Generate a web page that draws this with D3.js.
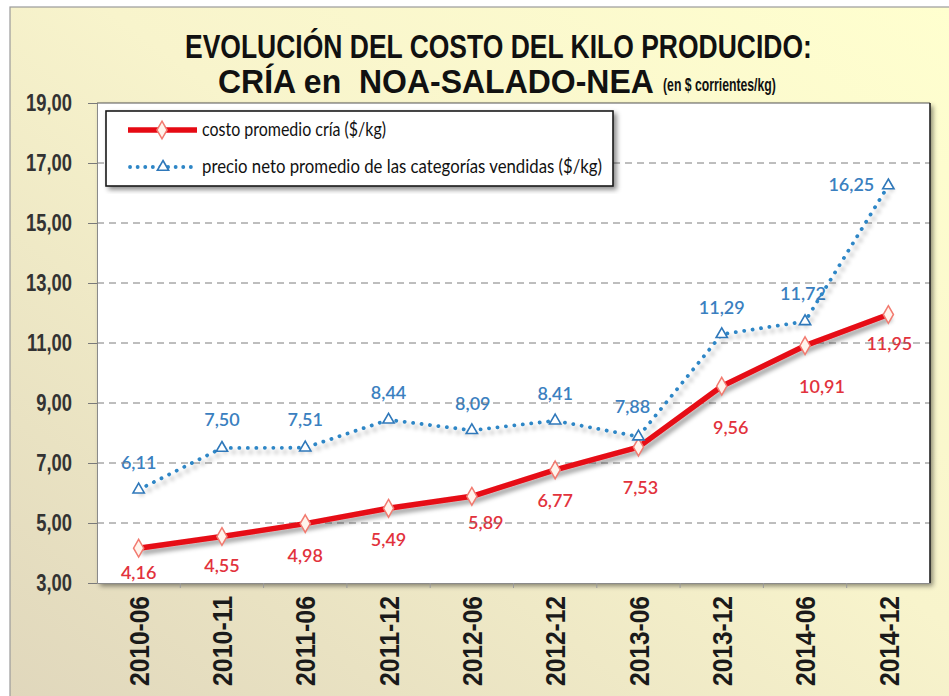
<!DOCTYPE html>
<html><head><meta charset="utf-8">
<script src="https://cdn.jsdelivr.net/npm/d3@7/dist/d3.min.js"></script>
<style>body{margin:0;background:#fff;overflow:hidden}</style>
</head><body><svg id="c" width="949" height="696"></svg>
<script>
const categories = ["2010-06","2010-11","2011-06","2011-12","2012-06","2012-12","2013-06","2013-12","2014-06","2014-12"];
const costo  = [4.16, 4.55, 4.98, 5.49, 5.89, 6.77, 7.53, 9.56, 10.91, 11.95];
const precio = [6.11, 7.50, 7.51, 8.44, 8.09, 8.41, 7.88, 11.29, 11.72, 16.25];
const yTicks = [3, 5, 7, 9, 11, 13, 15, 17, 19];
const seriesNames = ["costo promedio cría ($/kg)", "precio neto promedio de las categorías vendidas ($/kg)"];
const titleLine1 = "EVOLUCIÓN DEL COSTO DEL KILO PRODUCIDO:";
const titleLine2 = "CRÍA en  NOA-SALADO-NEA";
const titleSub = "(en $ corrientes/kg)";

// label nudges (layout only)
const costoLabelDx = [0,0,0,0,14,0,2,9,17,1];
const costoLabelDy = [24,28,31,31,26,30,40,41,40,28];
const precioLabelDx = [0,0,0,0,1,0,-6,0,-2,-37];
const precioLabelDy = [-28,-29,-29,-28,-27,-28,-31,-27,-28,-2];

const W = 949, H = 696;
const P = {left: 97, right: 930, top: 103, bottom: 583};
const svg = d3.select("#c");
const narrow = "'Liberation Sans','Arial',sans-serif";
const body = "Lato,'Open Sans','Noto Sans',sans-serif";

const defs = svg.append("defs");
const bg = defs.append("linearGradient").attr("id","bg").attr("x1","1").attr("y1","0").attr("x2","0").attr("y2","1");
bg.append("stop").attr("offset","0").attr("stop-color","#FFFFCF");
bg.append("stop").attr("offset","0.45").attr("stop-color","#F8F4CC");
bg.append("stop").attr("offset","1").attr("stop-color","#E0D7BC");
const sh = defs.append("filter").attr("id","sh").attr("x","-10%").attr("y","-10%").attr("width","130%").attr("height","140%");
sh.append("feDropShadow").attr("dx",3).attr("dy",4).attr("stdDeviation",2.2).attr("flood-color","#000").attr("flood-opacity",0.35);
const sh2 = defs.append("filter").attr("id","sh2").attr("x","-5%").attr("y","-5%").attr("width","110%").attr("height","115%");
sh2.append("feDropShadow").attr("dx",3).attr("dy",3).attr("stdDeviation",2.5).attr("flood-color","#000").attr("flood-opacity",0.45);

svg.append("rect").attr("x",10).attr("y",7).attr("width",W).attr("height",H)
  .attr("fill","url(#bg)").attr("stroke","#9a9a9a").attr("stroke-width",1.2);

function fit(sel, w){ const n=sel.node(); const l=n.getComputedTextLength(); if(Math.abs(l-w)>2) sel.attr("textLength",w).attr("lengthAdjust","spacingAndGlyphs"); return sel; }
function squeeze(sel, f){ sel.each(function(){ const l=this.getComputedTextLength(); d3.select(this).attr("textLength",l*f).attr("lengthAdjust","spacingAndGlyphs"); }); return sel; }
// horizontally scale a text (anchored at its start) so it spans width w
function scaleTo(tx, ty, w, size, str, extra){
  const t = svg.append("text").attr("x",0).attr("y",0).attr("font-family",narrow).attr("font-weight","bold")
    .attr("font-size",size).attr("fill","#111").style("white-space","pre").text(str);
  const l = t.node().getComputedTextLength();
  t.attr("transform",`translate(${tx},${ty}) scale(${w/l},1)`);
  return t;
}

// title
scaleTo(185, 58, 627, 34, titleLine1);
scaleTo(218, 93, 436, 34, titleLine2);
scaleTo(663, 91, 113, 18, titleSub);

const x = d3.scalePoint().domain(categories).range([P.left, P.right]).padding(0.5);
const y = d3.scaleLinear().domain([3, 19]).range([P.bottom, P.top]);

// plot area
svg.append("rect").attr("x",P.left).attr("y",P.top).attr("width",P.right-P.left).attr("height",P.bottom-P.top)
  .attr("fill","#fff").attr("filter","url(#sh2)");

// y axis
const yAxis = d3.axisLeft(y).tickValues(yTicks).tickSize(9).tickPadding(16)
  .tickFormat(d => d3.format(".2f")(d).replace(".", ","));
const ga = svg.append("g").attr("transform",`translate(${P.left},0)`).call(yAxis);
ga.select(".domain").attr("stroke","#8a8a8a");
ga.selectAll(".tick line").attr("stroke","#7a7a7a");
squeeze(ga.selectAll(".tick text").attr("font-family",narrow).attr("font-weight","bold").attr("font-size",23).attr("fill","#333"), 0.8);

// x axis
const xAxis = d3.axisBottom(x).tickSize(0).tickPadding(0);
const gx = svg.append("g").attr("transform",`translate(0,${P.bottom})`).call(xAxis);
gx.select(".domain").attr("stroke","#8a8a8a");
const xt = gx.selectAll(".tick text").attr("transform","translate(0,13) rotate(-90)")
  .attr("text-anchor","end").attr("dy","0.36em").attr("y",0).attr("x",0)
  .attr("font-family",narrow).attr("font-weight","bold").attr("font-size",27).attr("fill","#1a1a1a");
xt.attr("textLength",90).attr("lengthAdjust","spacingAndGlyphs");
// minor x ticks between categories
const step = x.step();
svg.append("g").selectAll("line").data(categories.slice(1)).join("line")
  .attr("x1",d=>x(d)-step/2).attr("x2",d=>x(d)-step/2).attr("y1",P.bottom).attr("y2",P.bottom+5)
  .attr("stroke","#9a9a9a");

// data labels (behind grid and lines, as in the reference)
const fmt = v => d3.format(".2f")(v).replace(".", ",");
svg.append("g").selectAll("text").data(costo).join("text")
  .attr("x",(d,i)=>x(categories[i])+costoLabelDx[i]).attr("y",(d,i)=>y(d)+costoLabelDy[i])
  .attr("dominant-baseline","central").attr("text-anchor","middle")
  .attr("font-family",body).attr("font-weight",600).attr("font-size",18).attr("fill","#E2323C").text(fmt);
svg.append("g").selectAll("text").data(precio).join("text")
  .attr("x",(d,i)=>x(categories[i])+precioLabelDx[i]).attr("y",(d,i)=>y(d)+precioLabelDy[i])
  .attr("dominant-baseline","central").attr("text-anchor","middle")
  .attr("font-family",body).attr("font-weight",600).attr("font-size",18).attr("fill","#3A80C0").text(fmt);

// grid
svg.append("g").selectAll("line").data(yTicks.filter(t=>t>3 && t<19)).join("line")
  .attr("x1",P.left).attr("x2",P.right).attr("y1",d=>y(d)).attr("y2",d=>y(d))
  .attr("stroke","#7d7d7d").attr("stroke-width",1).attr("stroke-dasharray","7,5");

// plot borders
svg.append("line").attr("x1",P.left).attr("x2",P.right).attr("y1",P.top).attr("y2",P.top).attr("stroke","#555");
svg.append("line").attr("x1",P.right).attr("x2",P.right).attr("y1",P.top).attr("y2",P.bottom).attr("stroke","#222").attr("stroke-width",1.6);

// lines
const line = d3.line().x((d,i)=>x(categories[i])).y(d=>y(d));
svg.append("path").datum(precio).attr("d",line).attr("fill","none")
  .attr("stroke","#2E86C6").attr("stroke-width",3.8).attr("stroke-linecap","round")
  .attr("stroke-dasharray","0.1,8.4").attr("filter","url(#sh)");
svg.append("path").datum(costo).attr("d",line).attr("fill","none")
  .attr("stroke","#E60A14").attr("stroke-width",5.5).attr("stroke-linejoin","round").attr("filter","url(#sh)");

// markers
const diamond = d3.symbol().type(d3.symbolDiamond).size(90);
const tri = d3.symbol().type(d3.symbolTriangle).size(55);
svg.append("g").selectAll("path").data(costo).join("path")
  .attr("transform",(d,i)=>`translate(${x(categories[i])},${y(d)})`).attr("d",diamond)
  .attr("fill","#FFF4EC").attr("stroke","#F27A70").attr("stroke-width",1.5);
svg.append("g").selectAll("path").data(precio).join("path")
  .attr("transform",(d,i)=>`translate(${x(categories[i])},${y(d)})`).attr("d",tri)
  .attr("fill","#fff").attr("stroke","#2F78BA").attr("stroke-width",1.6);

// legend
const lg = svg.append("g");
lg.append("rect").attr("x",106).attr("y",111).attr("width",507).attr("height",75)
  .attr("fill","#fff").attr("stroke","#1a1a1a").attr("stroke-width",1.6).attr("filter","url(#sh2)");
lg.append("line").attr("x1",128).attr("x2",197).attr("y1",130).attr("y2",130)
  .attr("stroke","#E60A14").attr("stroke-width",5.5);
lg.append("path").attr("transform","translate(162,130)").attr("d",diamond)
  .attr("fill","#FFF4EC").attr("stroke","#F27A70").attr("stroke-width",1.5);
lg.append("line").attr("x1",130).attr("x2",197).attr("y1",167).attr("y2",167)
  .attr("stroke","#2E86C6").attr("stroke-width",3.8).attr("stroke-linecap","round").attr("stroke-dasharray","0.1,7.5");
lg.append("path").attr("transform","translate(163,167)").attr("d",tri)
  .attr("fill","#fff").attr("stroke","#2F78BA").attr("stroke-width",1.6);
fit(lg.append("text").attr("x",202).attr("y",136).attr("font-family",body).attr("font-size",19).attr("fill","#111").text(seriesNames[0]), 184);
fit(lg.append("text").attr("x",202).attr("y",173).attr("font-family",body).attr("font-size",19).attr("fill","#111").text(seriesNames[1]), 400);
</script></body></html>
